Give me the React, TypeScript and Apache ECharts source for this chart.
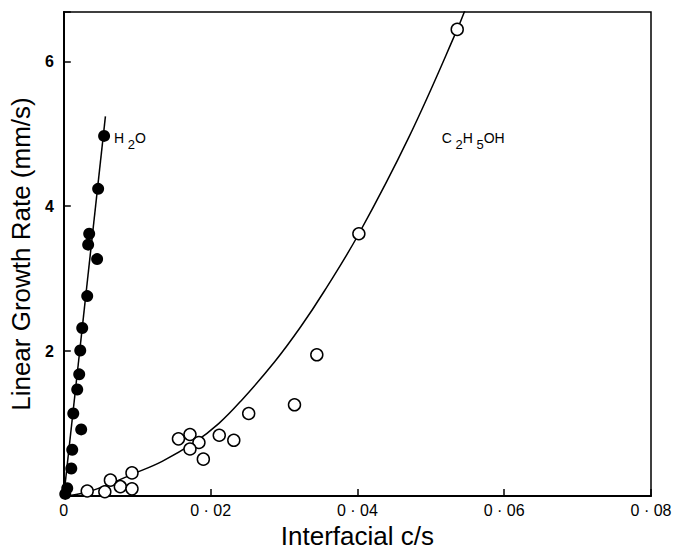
import React, { useEffect, useRef } from "react";
import * as echarts from "echarts";

// H2O data (filled circles)
const h2oX = [0.00549, 0.00468, 0.00346, 0.00332, 0.00454, 0.00319, 0.00251, 0.00224, 0.0021, 0.00183, 0.00129, 0.00237, 0.00115, 0.00102, 0.00047, 0.0002];
const h2oY = [4.97, 4.24, 3.62, 3.47, 3.27, 2.76, 2.32, 2.01, 1.68, 1.47, 1.14, 0.92, 0.64, 0.38, 0.11, 0.03];
// H2O fitted line
const h2oLineX = [0, 0.00567];
const h2oLineY = [0, 5.24];

// C2H5OH data (open circles)
const ethX = [0.00319, 0.00559, 0.00635, 0.0077, 0.00929, 0.00929, 0.01562, 0.01719, 0.01841, 0.01719, 0.01901, 0.02118, 0.02316, 0.02519, 0.03143, 0.03447, 0.0402, 0.0536];
const ethY = [0.07, 0.06, 0.22, 0.13, 0.32, 0.1, 0.79, 0.85, 0.74, 0.65, 0.51, 0.84, 0.77, 1.14, 1.26, 1.95, 3.62, 6.44];
// C2H5OH fitted curve
const ethCurveX = [0, 0.003, 0.0063, 0.0093, 0.0134, 0.0178, 0.0211, 0.0242, 0.0287, 0.0323, 0.0355, 0.0402, 0.047, 0.0536, 0.0552];
const ethCurveY = [0, 0.05, 0.17, 0.3, 0.48, 0.74, 1.0, 1.32, 1.85, 2.34, 2.83, 3.62, 4.95, 6.44, 6.85];

// Axis tick labels
const xTickLabels = ["0", "0 · 02", "0 · 04", "0 · 06", "0 · 08"];
const yTickValues = [2, 4, 6];

const axisFont = "'Liberation Sans', Arial, sans-serif";

export default function App() {
  const ref = useRef<HTMLDivElement>(null);
  useEffect(() => {
    if (!ref.current) return;
    const chart = echarts.init(ref.current, null, { renderer: "svg" });
    const zip = (xs: number[], ys: number[]) => xs.map((x, i) => [x, ys[i]]);
    const richLabel = {
      n: { fontSize: 14, fontFamily: axisFont, color: "#000", lineHeight: 20, verticalAlign: "top" },
      s: { fontSize: 13, fontFamily: axisFont, color: "#000", lineHeight: 20, verticalAlign: "bottom" },
    };
    chart.setOption({
      animation: false,
      backgroundColor: "#fff",
      grid: {
        left: 62,
        right: 25,
        top: 12,
        bottom: 48,
        show: true,
        borderColor: "#000",
        borderWidth: 1.5,
        backgroundColor: "transparent",
      },
      xAxis: {
        type: "value",
        min: 0,
        max: 0.08,
        interval: 0.02,
        name: "Interfacial c/s",
        nameLocation: "middle",
        nameGap: 24,
        nameTextStyle: { fontSize: 26, fontFamily: axisFont, color: "#000" },
        axisLine: { show: true, lineStyle: { color: "#000", width: 2 } },
        axisTick: { show: true, inside: true, length: 7, lineStyle: { color: "#000", width: 1.5 } },
        splitLine: { show: false },
        axisLabel: {
          margin: 6,
          fontSize: 16,
          fontFamily: axisFont,
          color: "#000",
          formatter: (_v: number, i: number) => xTickLabels[i] ?? "",
        },
      },
      yAxis: {
        type: "value",
        min: 0,
        max: 6.68,
        interval: 2,
        name: "Linear Growth Rate (mm/s)",
        nameLocation: "middle",
        nameRotate: 90,
        nameGap: 29,
        nameTextStyle: { fontSize: 26, fontFamily: axisFont, color: "#000" },
        axisLine: { show: true, lineStyle: { color: "#000", width: 2 } },
        axisTick: { show: true, inside: true, length: 7, lineStyle: { color: "#000", width: 1.5 } },
        splitLine: { show: false },
        axisLabel: {
          margin: 10,
          fontSize: 16,
          fontWeight: "bold",
          fontFamily: axisFont,
          color: "#000",
          formatter: (v: number) => (yTickValues.includes(v) ? String(v) : ""),
        },
      },
      series: [
        {
          type: "line",
          data: zip(h2oLineX, h2oLineY),
          symbol: "none",
          lineStyle: { color: "#000", width: 1.5 },
          z: 2,
          markPoint: {
            symbol: "circle",
            symbolSize: 0,
            data: [
              {
                coord: [0.00685, 4.9],
                label: {
                  show: true,
                  position: "right",
                  distance: 0,
                  formatter: "{n|H}{s| 2}{n|O}",
                  rich: richLabel,
                },
              },
            ],
          },
        },
        {
          type: "line",
          data: zip(ethCurveX, ethCurveY),
          symbol: "none",
          smooth: 0.4,
          lineStyle: { color: "#000", width: 1.5 },
          z: 2,
          markPoint: {
            symbol: "circle",
            symbolSize: 0,
            data: [
              {
                coord: [0.0515, 4.9],
                label: {
                  show: true,
                  position: "right",
                  distance: 0,
                  formatter: "{n|C}{s| 2}{n|H}{s| 5}{n|OH}",
                  rich: richLabel,
                },
              },
            ],
          },
        },
        {
          type: "scatter",
          data: zip(h2oX, h2oY),
          symbol: "circle",
          symbolSize: 12,
          itemStyle: { color: "#000", opacity: 1 },
          z: 3,
        },
        {
          type: "scatter",
          data: zip(ethX, ethY),
          symbol: "circle",
          symbolSize: 12,
          itemStyle: { color: "#fff", borderColor: "#000", borderWidth: 1.5, opacity: 1 },
          z: 3,
        },
      ],
    });
    return () => chart.dispose();
  }, []);
  return <div ref={ref} style={{ width: 676, height: 554, position: "absolute", left: 0, top: 0 }} />;
}
